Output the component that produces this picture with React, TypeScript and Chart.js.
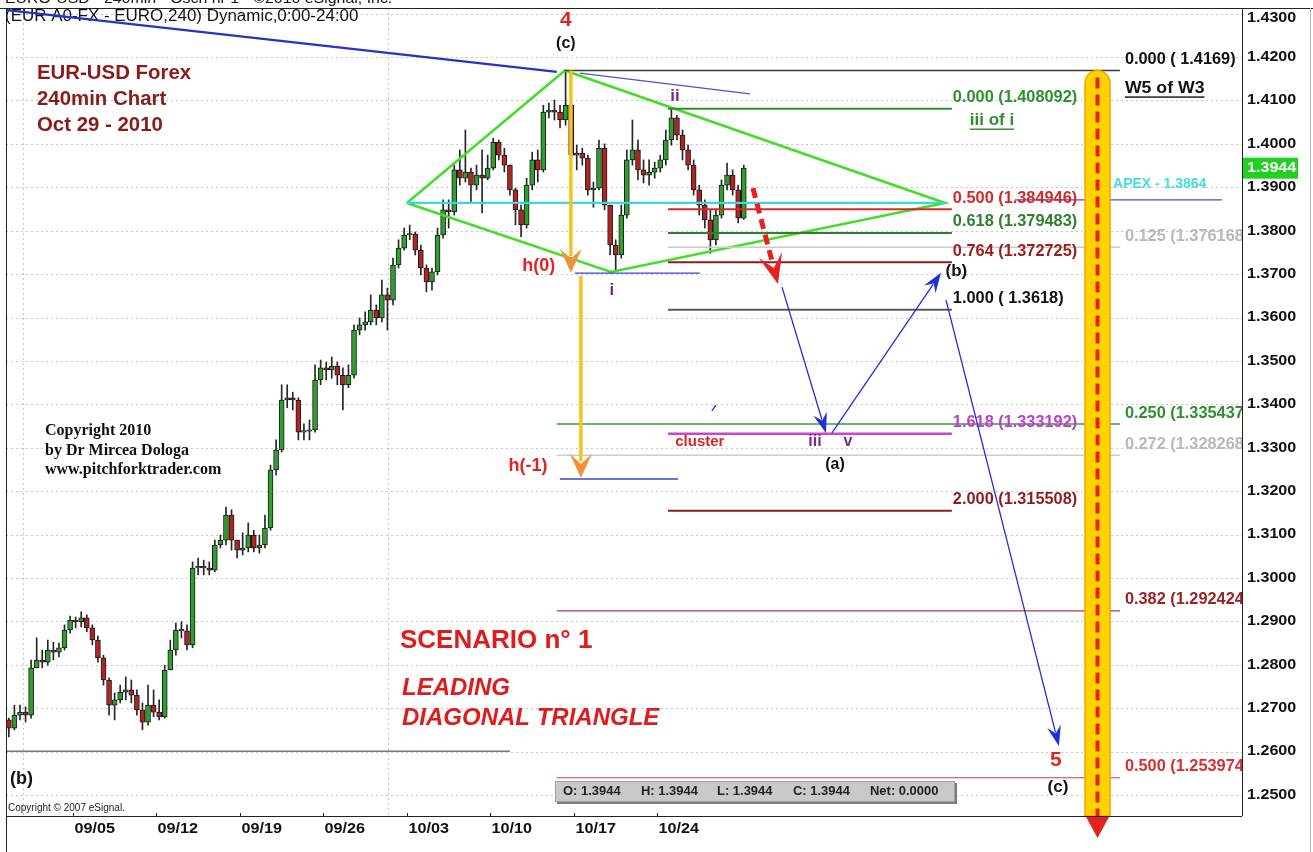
import React, { useEffect, useRef } from "react";
import { Chart, registerables } from "chart.js";

Chart.register(...registerables);

const SANS = '"Liberation Sans", Arial, Helvetica, sans-serif';
const SERIF = '"Liberation Serif", "Times New Roman", Times, serif';

// ---------------- data ----------------
// time axis in trading days counted from the 09/05 weekly tick; 8-hour candles
const candleStartDay = -3.83;
const candleStepDays = 1 / 3;

const candleOpen = [
  1.2673, 1.2654, 1.2684, 1.2691, 1.2684, 1.2793, 1.2811, 1.2806, 1.2834, 1.2829,
  1.2839, 1.2880, 1.2903, 1.2899, 1.2908, 1.2885, 1.2857, 1.2816, 1.2765, 1.2707,
  1.2719, 1.2737, 1.2742, 1.2730, 1.2696, 1.2668, 1.2707, 1.2691, 1.2680, 1.2788,
  1.2834, 1.2880, 1.2878, 1.2846, 1.3023, 1.3027, 1.3023, 1.3018, 1.3076, 1.3087,
  1.3145, 1.3087, 1.3064, 1.3069, 1.3099, 1.3069, 1.3076, 1.3115, 1.3249, 1.3295,
  1.3410, 1.3415, 1.3410, 1.3336, 1.3338, 1.3341, 1.3456, 1.3484, 1.3479, 1.3488,
  1.3467, 1.3445, 1.3467, 1.3571, 1.3583, 1.3590, 1.3617, 1.3599, 1.3652, 1.3640,
  1.3721, 1.3760, 1.3790, 1.3792, 1.3755, 1.3714, 1.3682, 1.3705, 1.3790, 1.3848,
  1.3843, 1.3940, 1.3921, 1.3935, 1.3905, 1.3928, 1.3921, 1.3944, 1.4004, 1.3974,
  1.3951, 1.3894, 1.3848, 1.3813, 1.3905, 1.3963, 1.3940, 1.4073, 1.4078, 1.4073,
  1.4055, 1.4089, 1.3974, 1.3979, 1.3967, 1.3894, 1.3898, 1.3990, 1.3859, 1.3767,
  1.3744, 1.3836, 1.3963, 1.3986, 1.3940, 1.3928, 1.3935, 1.3944, 1.3963, 1.4009,
  1.4060, 1.4020, 1.3986, 1.3951, 1.3894, 1.3859, 1.3825, 1.3779, 1.3836, 1.3905,
  1.3928, 1.3894, 1.3829,
];
const candleHigh = [
  1.2677, 1.2707, 1.2707, 1.2703, 1.2811, 1.2862, 1.2834, 1.2857, 1.2852, 1.2850,
  1.2892, 1.2912, 1.2910, 1.2922, 1.2915, 1.2892, 1.2866, 1.2822, 1.2770, 1.2735,
  1.2753, 1.2772, 1.2765, 1.2742, 1.2712, 1.2753, 1.2742, 1.2719, 1.2799, 1.2857,
  1.2896, 1.2899, 1.2892, 1.3037, 1.3046, 1.3041, 1.3037, 1.3087, 1.3099, 1.3163,
  1.3157, 1.3087, 1.3104, 1.3127, 1.3110, 1.3099, 1.3145, 1.3260, 1.3318, 1.3445,
  1.3445, 1.3428, 1.3415, 1.3355, 1.3364, 1.3491, 1.3502, 1.3497, 1.3509, 1.3497,
  1.3484, 1.3491, 1.3583, 1.3599, 1.3613, 1.3652, 1.3629, 1.3686, 1.3668, 1.3737,
  1.3779, 1.3806, 1.3813, 1.3797, 1.3767, 1.3721, 1.3714, 1.3806, 1.3871, 1.3871,
  1.3951, 1.3986, 1.4032, 1.3944, 1.3951, 1.3986, 1.3974, 1.4013, 1.4009, 1.3990,
  1.3951, 1.3898, 1.3859, 1.3921, 1.3981, 1.3986, 1.4089, 1.4094, 1.4101, 1.4089,
  1.4169, 1.4101, 1.3997, 1.3990, 1.3974, 1.3912, 1.4009, 1.4000, 1.3859, 1.3779,
  1.3859, 1.3986, 1.4055, 1.4009, 1.3963, 1.3963, 1.3958, 1.3974, 1.4032, 1.4081,
  1.4066, 1.4032, 1.3997, 1.3963, 1.3905, 1.3871, 1.3848, 1.3848, 1.3917, 1.3956,
  1.3940, 1.3905, 1.3951,
];
const candleLow = [
  1.2634, 1.2650, 1.2673, 1.2668, 1.2677, 1.2793, 1.2793, 1.2799, 1.2811, 1.2818,
  1.2834, 1.2873, 1.2885, 1.2887, 1.2876, 1.2846, 1.2806, 1.2753, 1.2684, 1.2673,
  1.2712, 1.2719, 1.2712, 1.2684, 1.2650, 1.2661, 1.2680, 1.2673, 1.2677, 1.2788,
  1.2822, 1.2862, 1.2834, 1.2839, 1.3007, 1.3007, 1.3007, 1.3014, 1.3069, 1.3076,
  1.3064, 1.3046, 1.3053, 1.3060, 1.3060, 1.3057, 1.3069, 1.3110, 1.3237, 1.3290,
  1.3392, 1.3387, 1.3318, 1.3318, 1.3318, 1.3336, 1.3445, 1.3456, 1.3460, 1.3445,
  1.3387, 1.3438, 1.3460, 1.3560, 1.3571, 1.3583, 1.3583, 1.3590, 1.3571, 1.3629,
  1.3714, 1.3755, 1.3779, 1.3744, 1.3698, 1.3659, 1.3663, 1.3698, 1.3783, 1.3806,
  1.3836, 1.3905, 1.3912, 1.3864, 1.3894, 1.3841, 1.3917, 1.3940, 1.3963, 1.3935,
  1.3882, 1.3813, 1.3786, 1.3806, 1.3894, 1.3912, 1.3935, 1.4060, 1.4055, 1.4037,
  1.4043, 1.3963, 1.3940, 1.3951, 1.3882, 1.3854, 1.3894, 1.3848, 1.3744, 1.3710,
  1.3737, 1.3829, 1.3951, 1.3917, 1.3910, 1.3905, 1.3921, 1.3935, 1.3951, 1.3997,
  1.4009, 1.3963, 1.3940, 1.3882, 1.3836, 1.3806, 1.3748, 1.3767, 1.3829, 1.3894,
  1.3882, 1.3818, 1.3826,
];
const candleClose = [
  1.2654, 1.2684, 1.2691, 1.2684, 1.2793, 1.2811, 1.2806, 1.2834, 1.2829, 1.2839,
  1.2880, 1.2903, 1.2899, 1.2908, 1.2885, 1.2857, 1.2816, 1.2765, 1.2707, 1.2719,
  1.2737, 1.2742, 1.2730, 1.2696, 1.2668, 1.2707, 1.2691, 1.2680, 1.2788, 1.2834,
  1.2880, 1.2878, 1.2846, 1.3023, 1.3027, 1.3023, 1.3018, 1.3076, 1.3087, 1.3145,
  1.3087, 1.3064, 1.3069, 1.3099, 1.3069, 1.3076, 1.3115, 1.3249, 1.3295, 1.3410,
  1.3415, 1.3410, 1.3336, 1.3338, 1.3341, 1.3456, 1.3484, 1.3479, 1.3488, 1.3467,
  1.3445, 1.3467, 1.3571, 1.3583, 1.3590, 1.3617, 1.3599, 1.3652, 1.3640, 1.3721,
  1.3760, 1.3790, 1.3792, 1.3755, 1.3714, 1.3682, 1.3705, 1.3790, 1.3848, 1.3843,
  1.3940, 1.3921, 1.3935, 1.3905, 1.3928, 1.3921, 1.3944, 1.4004, 1.3974, 1.3951,
  1.3894, 1.3848, 1.3813, 1.3905, 1.3963, 1.3940, 1.4073, 1.4078, 1.4073, 1.4055,
  1.4089, 1.3974, 1.3979, 1.3967, 1.3894, 1.3898, 1.3990, 1.3859, 1.3767, 1.3744,
  1.3836, 1.3963, 1.3986, 1.3940, 1.3928, 1.3935, 1.3944, 1.3963, 1.4009, 1.4060,
  1.4020, 1.3986, 1.3951, 1.3894, 1.3859, 1.3825, 1.3779, 1.3836, 1.3905, 1.3928,
  1.3894, 1.3829, 1.3944,
];
const lastPrice = 1.3944;

const weekTickDays = [0, 5, 10, 15, 20, 25, 30, 35];
const weekTickLabels = ["09/05", "09/12", "09/19", "09/26", "10/03", "10/10", "10/17", "10/24"];
const monthStartDays = [-2.99, 18.86];
const priceTicks = [
  1.43, 1.42, 1.41, 1.4, 1.39, 1.38, 1.37, 1.36, 1.35, 1.34,
  1.33, 1.32, 1.31, 1.3, 1.29, 1.28, 1.27, 1.26, 1.25,
];

// Fibonacci levels
const fibNames = [
  "0.000 ( 1.4169)", "0.000 (1.408092)", "0.500 (1.384946)", "0.618 (1.379483)",
  "0.764 (1.372725)", "1.000 ( 1.3618)", "1.618 (1.333192)", "2.000 (1.315508)",
  "0.125 (1.376168)", "0.250 (1.335437)", "0.272 (1.328268)", "0.382 (1.292424)",
  "0.500 (1.253974)",
];
const fibValues = [
  1.4169, 1.408092, 1.384946, 1.379483, 1.372725, 1.3618, 1.333192, 1.315508,
  1.376168, 1.335437, 1.328268, 1.292424, 1.253974,
];
const fibStartDays = [29.46, 35.63, 35.63, 35.63, 35.63, 35.63, 35.63, 35.63, 35.63, 28.98, 28.98, 28.98, 28.98];
const fibEndDays = [62.69, 52.63, 52.63, 52.63, 52.63, 52.63, 52.63, 52.63, 62.69, 62.69, 62.69, 62.69, 62.69];

// trend lines, triangle, apex
const trendDays = [-3.95, 28.98];
const trendPrices = [1.4308, 1.4166];
const upperDays = [30.36, 40.54];
const upperPrices = [1.4163, 1.4115];
const diamondDays = [20.0, 29.46, 52.22, 32.22, 20.0];
const diamondPrices = [1.3864, 1.4169, 1.3864, 1.3705, 1.3864];
const apexDays = [20.0, 52.22];
const apexPrice = 1.3864;
const apexExtDays = [56.4, 68.8];
const apexExtPrice = 1.3871;
const supportDays = [-3.95, 26.17];
const supportPrice = 1.2601;
const waveILowDays = [30.06, 37.54];
const waveILowPrice = 1.3702;
const hTargetDays = [29.16, 36.23];
const hTargetPrice = 1.3228;

// arrows
const yellowArrowDays = [29.82, 30.42];
const yellowArrowFrom = [1.4169, 1.3696];
const yellowArrowTo = [1.3703, 1.323];
const projectionDays = [40.72, 42.22];
const projectionPrices = [1.3898, 1.3677];
const pathFromDays = [42.46, 45.45, 52.28];
const pathFromPrices = [1.367, 1.3334, 1.364];
const pathToDays = [45.09, 51.98, 59.04];
const pathToPrices = [1.3334, 1.3703, 1.2613];
const timeBandDays = [60.6, 62.1];
const timeBandTop = 1.4169;

// ---------------- styles ----------------
const UP = "#2f9e2f";
const DOWN = "#b02424";
const fibLineColors = ["#3a3a3a", "#2f8f2f", "#d42a2a", "#2f7f2f", "#8e1c1c", "#5a5a5a", "#cc44cc", "#8e1c1c", "#cccccc", "#3c9c3c", "#cccccc", "#b03a3a", "#e03a3a"];
const fibLineWidths = [1.5, 2, 2, 2, 2, 2, 2.5, 2, 1.5, 1.5, 1.5, 1.2, 1.2];
const fibLabelColors = ["#111111", "#2f8f2f", "#d42a2a", "#2f7f2f", "#9b1d1d", "#111111", "#bb3fcc", "#8e1c1c", "#b8b8b8", "#2f8f2f", "#b8b8b8", "#9b2222", "#d63030"];

const waveLabels = [
  { text: "4", day: 29.52, price: 1.4285, color: "#e32222", size: 21 },
  { text: "(c)", day: 29.52, price: 1.423, color: "#111111", size: 16 },
  { text: "ii", day: 36.05, price: 1.411, color: "#7b2a8c", size: 17 },
  { text: "i", day: 32.28, price: 1.3663, color: "#7b2a8c", size: 17 },
  { text: "h(0)", day: 27.9, price: 1.3719, color: "#e32222", size: 18 },
  { text: "h(-1)", day: 27.25, price: 1.3258, color: "#e32222", size: 18 },
  { text: "(b)", day: 52.9, price: 1.3707, color: "#111111", size: 17 },
  { text: "cluster", day: 37.54, price: 1.3313, color: "#e32222", size: 15 },
  { text: "iii", day: 44.43, price: 1.3313, color: "#7b2a8c", size: 16 },
  { text: "v", day: 46.41, price: 1.3313, color: "#7b2a8c", size: 16 },
  { text: "(a)", day: 45.63, price: 1.326, color: "#111111", size: 16 },
  { text: "5", day: 58.86, price: 1.2581, color: "#e32222", size: 21 },
  { text: "(c)", day: 58.98, price: 1.2518, color: "#111111", size: 17 },
];

function drawText(ctx: any, s: string, x: number, y: number, o: any) {
  ctx.save();
  ctx.font = `${o.italic ? "italic " : ""}${o.bold === false ? "" : "bold "}${o.size}px ${o.family || SANS}`;
  ctx.fillStyle = o.color || "#111";
  ctx.textBaseline = o.baseline || "middle";
  ctx.textAlign = o.align || "left";
  ctx.translate(x, y);
  ctx.scale(o.sx || 1, 1);
  ctx.fillText(s, 0, 0);
  if (o.underline) {
    const w = ctx.measureText(s).width;
    const x0 = o.align === "center" ? -w / 2 : o.align === "right" ? -w : 0;
    ctx.fillRect(x0, o.size * 0.5, w, Math.max(1.2, o.size / 12));
  }
  ctx.restore();
}

function drawArrow(ctx: any, x1: number, y1: number, x2: number, y2: number, o: any) {
  const ang = Math.atan2(y2 - y1, x2 - x1);
  const c = Math.cos(ang), s = Math.sin(ang);
  const L = o.headLen, H = o.headHalf, n = o.notch;
  ctx.save();
  ctx.strokeStyle = o.color;
  ctx.lineWidth = o.width;
  ctx.setLineDash(o.dash || []);
  ctx.beginPath();
  ctx.moveTo(x1, y1);
  ctx.lineTo(x2 - c * L * 0.7, y2 - s * L * 0.7);
  ctx.stroke();
  ctx.setLineDash([]);
  const bx = x2 - c * L, by = y2 - s * L;
  const px = -s, py = c;
  ctx.beginPath();
  ctx.moveTo(x2, y2);
  ctx.lineTo(bx + px * H, by + py * H);
  ctx.lineTo(bx + c * L * n, by + s * L * n);
  ctx.lineTo(bx - px * H, by - py * H);
  ctx.closePath();
  ctx.fillStyle = o.headColor || o.color;
  ctx.fill();
  ctx.restore();
}

function line(ctx: any, x1: number, y1: number, x2: number, y2: number) {
  ctx.beginPath();
  ctx.moveTo(x1, y1);
  ctx.lineTo(x2, y2);
  ctx.stroke();
}

const overlayPlugin = {
  id: "overlay",
  beforeDatasetsDraw(chart: any) {
    const { ctx, chartArea: a, scales } = chart;
    const xs = scales.x, ys = scales.y;
    ctx.save();
    ctx.strokeStyle = "#c6c6c6";
    ctx.lineWidth = 1;
    ctx.setLineDash([2, 3]);
    priceTicks.forEach((p) => {
      const yy = Math.round(ys.getPixelForValue(p)) + 0.5;
      line(ctx, a.left, yy, a.right, yy);
    });
    monthStartDays.forEach((d) => {
      const xx = Math.round(xs.getPixelForValue(d)) + 0.5;
      line(ctx, xx, a.top, xx, a.bottom);
    });
    ctx.setLineDash([]);
    drawText(ctx, "EURO-USD - 240min - Osch nr 1 - \u00a92010 eSignal, Inc.", 5, 3, { size: 15, bold: false, baseline: "alphabetic", sx: 1.06 });
    drawText(ctx, "(EUR A0-FX - EURO,240) Dynamic,0:00-24:00", 5, 17, { size: 16, bold: false, sx: 1.06, color: "#111" });
    ctx.restore();
  },
  afterDatasetsDraw(chart: any) {
    const { ctx, chartArea: a, scales } = chart;
    const xs = scales.x, ys = scales.y;
    const X = (d: number) => xs.getPixelForValue(d);
    const Y = (p: number) => ys.getPixelForValue(p);
    ctx.save();

    // time band (yellow with red dashed centre)
    const bx0 = X(timeBandDays[0]), bx1 = X(timeBandDays[1]);
    const bTop = Y(timeBandTop);
    const r = (bx1 - bx0) / 2, cx = (bx0 + bx1) / 2;
    ctx.beginPath();
    ctx.moveTo(bx0, a.bottom);
    ctx.lineTo(bx0, bTop + r);
    ctx.arc(cx, bTop + r, r, Math.PI, 0);
    ctx.lineTo(bx1, a.bottom);
    ctx.closePath();
    ctx.fillStyle = "#ffd200";
    ctx.fill();
    ctx.strokeStyle = "#f0a500";
    ctx.lineWidth = 1.5;
    ctx.stroke();
    ctx.strokeStyle = "#e3221e";
    ctx.lineWidth = 4;
    ctx.setLineDash([11, 6]);
    line(ctx, cx, bTop + 7, cx, a.bottom);
    ctx.setLineDash([]);
    ctx.beginPath();
    ctx.moveTo(cx - 12, a.bottom);
    ctx.lineTo(cx + 12, a.bottom);
    ctx.lineTo(cx, a.bottom + 22);
    ctx.closePath();
    ctx.fillStyle = "#e3221e";
    ctx.fill();

    // fib labels (clipped at the price axis)
    ctx.save();
    ctx.beginPath();
    ctx.rect(a.left, 0, a.right - a.left, chart.height);
    ctx.clip();
    fibValues.forEach((v, i) => {
      const ex = X(fibEndDays[i]);
      const lx = ex + (fibEndDays[i] > 60 ? 5 : 1);
      drawText(ctx, fibNames[i], lx, Y(v) - 11, { size: 16, color: fibLabelColors[i], sx: 1.02 });
    });
    drawText(ctx, "W5 of W3", X(62.99), Y(1.4129), { size: 17, color: "#111", underline: true, sx: 1.04 });
    drawText(ctx, "iii of i", X(55.03), Y(1.4055), { size: 17, color: "#2f8f2f", underline: true, align: "center" });
    drawText(ctx, "APEX - 1.3864", X(62.28), Y(1.3907), { size: 14, color: "#44dede" });
    ctx.restore();

    // wave labels
    waveLabels.forEach((w) => {
      drawText(ctx, w.text, X(w.day), Y(w.price), { size: w.size, color: w.color, align: "center" });
    });

    // vertical yellow arrows
    yellowArrowDays.forEach((d, i) => {
      drawArrow(ctx, X(d), Y(yellowArrowFrom[i]), X(d), Y(yellowArrowTo[i]), {
        color: "#f6c21c", width: 3.5, headLen: 24, headHalf: 11, notch: 0.4, headColor: "#f2913a",
      });
    });
    // red dashed projection
    drawArrow(ctx, X(projectionDays[0]), Y(projectionPrices[0]), X(projectionDays[1]), Y(projectionPrices[1]), {
      color: "#e82020", width: 5, dash: [10, 6], headLen: 30, headHalf: 12, notch: 0.45,
    });
    // blue path arrows
    pathFromDays.forEach((d, i) => {
      drawArrow(ctx, X(d), Y(pathFromPrices[i]), X(pathToDays[i]), Y(pathToPrices[i]), {
        color: "#1f30d8", width: 1.3, headLen: 20, headHalf: 7, notch: 0.35,
      });
    });
    ctx.strokeStyle = "#1f30d8";
    ctx.lineWidth = 1.3;
    line(ctx, X(38.26), Y(1.3385), X(38.5), Y(1.3398));

    // titles & notes
    drawText(ctx, "EUR-USD Forex", 37, 73, { size: 20, color: "#8b1a1a", sx: 1.02 });
    drawText(ctx, "240min Chart", 37, 99, { size: 20, color: "#8b1a1a", sx: 1.02 });
    drawText(ctx, "Oct 29 - 2010", 37, 125, { size: 20, color: "#8b1a1a", sx: 1.02 });
    drawText(ctx, "Copyright 2010", 45, 431, { size: 16, family: SERIF, color: "#111" });
    drawText(ctx, "by Dr Mircea Dologa", 45, 451, { size: 16, family: SERIF, color: "#111" });
    drawText(ctx, "www.pitchforktrader.com", 45, 470, { size: 16, family: SERIF, color: "#111" });
    drawText(ctx, "SCENARIO n\u00b0 1", 400, 641, { size: 26, color: "#e01b1b" });
    drawText(ctx, "LEADING", 402, 688, { size: 24, italic: true, color: "#e01b1b" });
    drawText(ctx, "DIAGONAL TRIANGLE", 402, 718, { size: 24, italic: true, color: "#e01b1b" });
    drawText(ctx, "(b)", 10, 779, { size: 18, color: "#111" });
    drawText(ctx, "Copyright \u00a9 2007 eSignal.", 8, 808, { size: 10, bold: false, color: "#222" });

    // OHLC box
    ctx.fillStyle = "#7c7c7c";
    ctx.fillRect(557, 783, 400, 21);
    ctx.fillStyle = "#c9c9c9";
    ctx.fillRect(555, 781, 400, 21);
    ctx.strokeStyle = "#a0a0a0";
    ctx.lineWidth = 1;
    ctx.strokeRect(555.5, 781.5, 399, 20);
    const lp = lastPrice.toFixed(4);
    const ohlcTexts = [`O: ${lp}`, `H: ${lp}`, `L: ${lp}`, `C: ${lp}`, "Net: 0.0000"];
    const ohlcX = [563, 641, 717, 793, 870];
    ohlcTexts.forEach((t, i) => drawText(ctx, t, ohlcX[i], 792, { size: 12, color: "#222", sx: 1.08 }));

    // frame
    ctx.strokeStyle = "#222";
    ctx.lineWidth = 1;
    line(ctx, 0, a.top + 0.5, chart.width, a.top + 0.5);
    line(ctx, a.left + 0.5, a.top, a.left + 0.5, chart.height);
    line(ctx, a.left, a.bottom + 0.5, a.right, a.bottom + 0.5);
    line(ctx, a.right + 0.5, a.top, a.right + 0.5, a.bottom);
    ctx.strokeStyle = "#bbbbbb";
    line(ctx, chart.width - 2.5, a.top, chart.width - 2.5, chart.height);

    // price axis labels
    priceTicks.forEach((p) => {
      const yy = Math.max(18, Y(p));
      drawText(ctx, p.toFixed(4), a.right + 5, yy, { size: 14, color: "#111", sx: 1.15 });
    });
    const yl = Y(lastPrice);
    ctx.fillStyle = "#22d022";
    ctx.fillRect(a.right + 1, yl - 10.5, 55, 21);
    drawText(ctx, lp, a.right + 5, yl, { size: 14, color: "#ffffff", sx: 1.15 });

    // time axis
    ctx.strokeStyle = "#222";
    weekTickDays.forEach((d, i) => {
      const xx = Math.round(X(d)) + 0.5;
      line(ctx, xx, a.bottom - 3, xx, a.bottom);
      drawText(ctx, weekTickLabels[i], xx + 1, 829, { size: 15, color: "#111", sx: 1.08 });
    });
    ctx.restore();
  },
};

function lineDataset(days: number[], prices: number[], color: string, width: number, dash: number[] = []) {
  return {
    type: "line",
    data: days.map((d, i) => ({ x: d, y: prices[i] })),
    borderColor: color,
    borderWidth: width,
    borderDash: dash,
    pointRadius: 0,
    fill: false,
    tension: 0,
    order: 1,
  };
}

export default function App() {
  const canvasRef = useRef<HTMLCanvasElement>(null);

  useEffect(() => {
    const canvas = canvasRef.current;
    if (!canvas) return;
    const times = candleClose.map((_, i) => candleStartDay + i * candleStepDays);
    const wickData = times.map((t, i) => ({ x: t, y: [candleLow[i], candleHigh[i]] }));
    const bodyData = times.map((t, i) => ({ x: t, y: [candleOpen[i], candleClose[i]] }));
    const bodyColors = candleClose.map((c, i) => (c >= candleOpen[i] ? UP : DOWN));

    const datasets: any[] = [
      {
        type: "bar",
        data: wickData,
        backgroundColor: "#262626",
        barThickness: 1,
        grouped: false,
        order: 6,
      },
      {
        type: "bar",
        data: bodyData,
        backgroundColor: bodyColors,
        borderColor: "#1a1a1a",
        borderWidth: 1,
        borderSkipped: false,
        barThickness: 5,
        minBarLength: 1.5,
        grouped: false,
        order: 5,
      },
      lineDataset(trendDays, trendPrices, "#2433c8", 2.2),
      lineDataset(upperDays, upperPrices, "#4a55d0", 1.2),
      lineDataset(supportDays, [supportPrice, supportPrice], "#333333", 1),
      lineDataset(waveILowDays, [waveILowPrice, waveILowPrice], "#3546d0", 1.3),
      lineDataset(hTargetDays, [hTargetPrice, hTargetPrice], "#3546d0", 1.3),
      lineDataset(apexExtDays, [apexExtPrice, apexExtPrice], "#4a4ad0", 1.2),
    ];
    fibValues.forEach((v, i) => {
      datasets.push(lineDataset([fibStartDays[i], fibEndDays[i]], [v, v], fibLineColors[i], fibLineWidths[i]));
    });
    datasets.push(lineDataset(apexDays, [apexPrice, apexPrice], "#3ad8dc", 2.2));
    datasets.push(lineDataset(diamondDays, diamondPrices, "#45dd2a", 2.6));

    const chart = new Chart(canvas, {
      type: "bar",
      data: { datasets },
      options: {
        animation: false,
        responsive: false,
        events: [],
        layout: { padding: { left: 6, right: 71, top: 8, bottom: 36 } },
        plugins: { legend: { display: false }, tooltip: { enabled: false } },
        scales: {
          x: { type: "linear", min: -4, max: 70, display: false, offset: false },
          y: { type: "linear", min: 1.24516, max: 1.4313, display: false },
        },
      },
      plugins: [overlayPlugin],
    } as any);
    return () => chart.destroy();
  }, []);

  return (
    <div style={{ position: "absolute", left: 0, top: 0, width: 1313, height: 852, background: "#ffffff" }}>
      <canvas ref={canvasRef} width={1313} height={852} style={{ display: "block" }} />
    </div>
  );
}
